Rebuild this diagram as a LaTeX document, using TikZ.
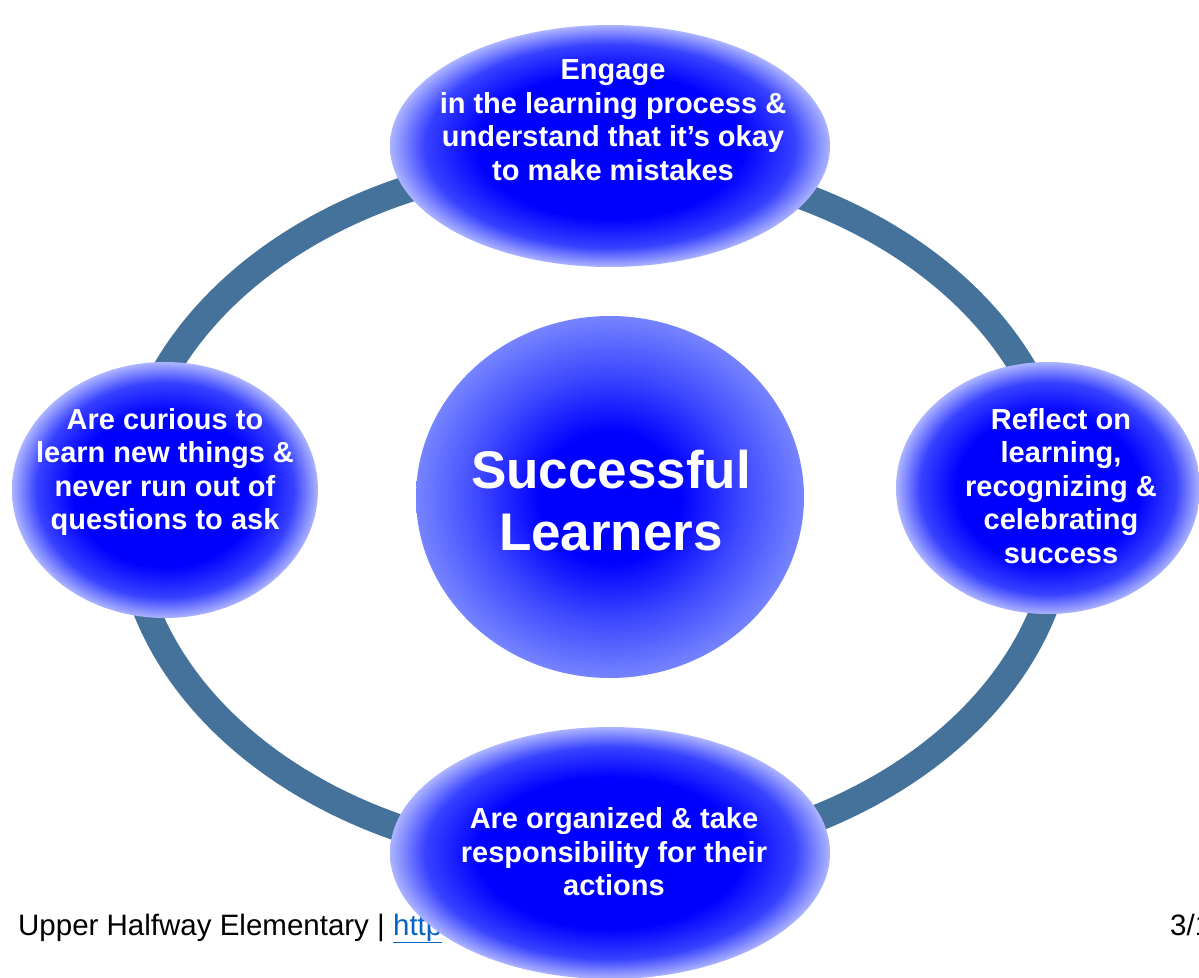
\documentclass[tikz,border=0pt]{standalone}
\usepackage{fontspec}
\setmainfont{Liberation Sans}
\usetikzlibrary{shapes.geometric}

\definecolor{ringblue}{RGB}{68,114,155}
\definecolor{linkblue}{RGB}{5,99,193}
\definecolor{satedge}{RGB}{172,180,255}
\definecolor{satmid}{RGB}{55,65,255}
\definecolor{hubedge}{RGB}{118,132,255}
\definecolor{hubmid}{RGB}{62,72,255}

% 25bp is the border of the shaded shape
\pgfdeclareradialshading{satshade}{\pgfpoint{0bp}{0bp}}{%
  color(0bp)=(blue); color(15bp)=(blue); color(21bp)=(satmid);
  color(25bp)=(satedge); color(50bp)=(satedge)}
\pgfdeclareradialshading{hubshade}{\pgfpoint{0bp}{0bp}}{%
  color(0bp)=(blue); color(9bp)=(blue); color(17bp)=(hubmid);
  color(25bp)=(hubedge); color(50bp)=(hubedge)}

\tikzset{
  ringline/.style={ellipse, draw=ringblue, line width=27pt, inner sep=0pt,
    minimum width=936pt, minimum height=700pt},
  satellite/.style={ellipse, shading=satshade, inner sep=0pt},
  hub/.style={ellipse, shading=hubshade, inner sep=0pt},
  sattext/.style={text=white, align=center, inner sep=0pt,
    font=\bfseries\fontsize{29}{33.5}\selectfont},
  hubtext/.style={text=white, align=center, inner sep=0pt,
    font=\bfseries\fontsize{53}{62}\selectfont},
  footer/.style={inner sep=0pt, font=\fontsize{29.5}{35}\selectfont}
}

\begin{document}
\begin{tikzpicture}[x=1pt,y=-1pt]
  \useasboundingbox (0,0) rectangle (1199,977);
  \fill[white] (0,0) rectangle (1199,977);

  % the cycle ring behind everything
  \node[ringline] (ring) at (595,510) {};

  % slide footer
  \node[footer, anchor=base west] (school) at (18,935)
    {Upper Halfway Elementary | \textcolor{linkblue}{\underline{http}}};
  \node[footer, anchor=base west] (pagenum) at (1170,935) {3/1};

  % centre hub
  \node[hub, minimum width=388pt, minimum height=362pt] (hub) at (610,497) {};
  \node[hubtext] (hubT) at (611,501) {Successful\\Learners};

  % four satellites
  \node[satellite, minimum width=440pt, minimum height=242pt] (top) at (610,146) {};
  \node[sattext] (topT) at (613,120)
    {Engage\\in the learning process \&\\understand that it’s okay\\to make mistakes};

  \node[satellite, minimum width=306pt, minimum height=256pt] (left) at (165,490) {};
  \node[sattext] (leftT) at (165,472)
    {Are curious to\\learn new things \&\\never run out of\\questions to ask};

  \node[satellite, minimum width=304pt, minimum height=252pt] (right) at (1048,488) {};
  \node[sattext] (rightT) at (1061,486)
    {Reflect on\\learning,\\recognizing \&\\celebrating\\success};

  \node[satellite, minimum width=440pt, minimum height=252pt] (bottom) at (610,853) {};
  \node[sattext] (bottomT) at (614,852)
    {Are organized \& take\\responsibility for their\\actions};
\end{tikzpicture}
\end{document}
